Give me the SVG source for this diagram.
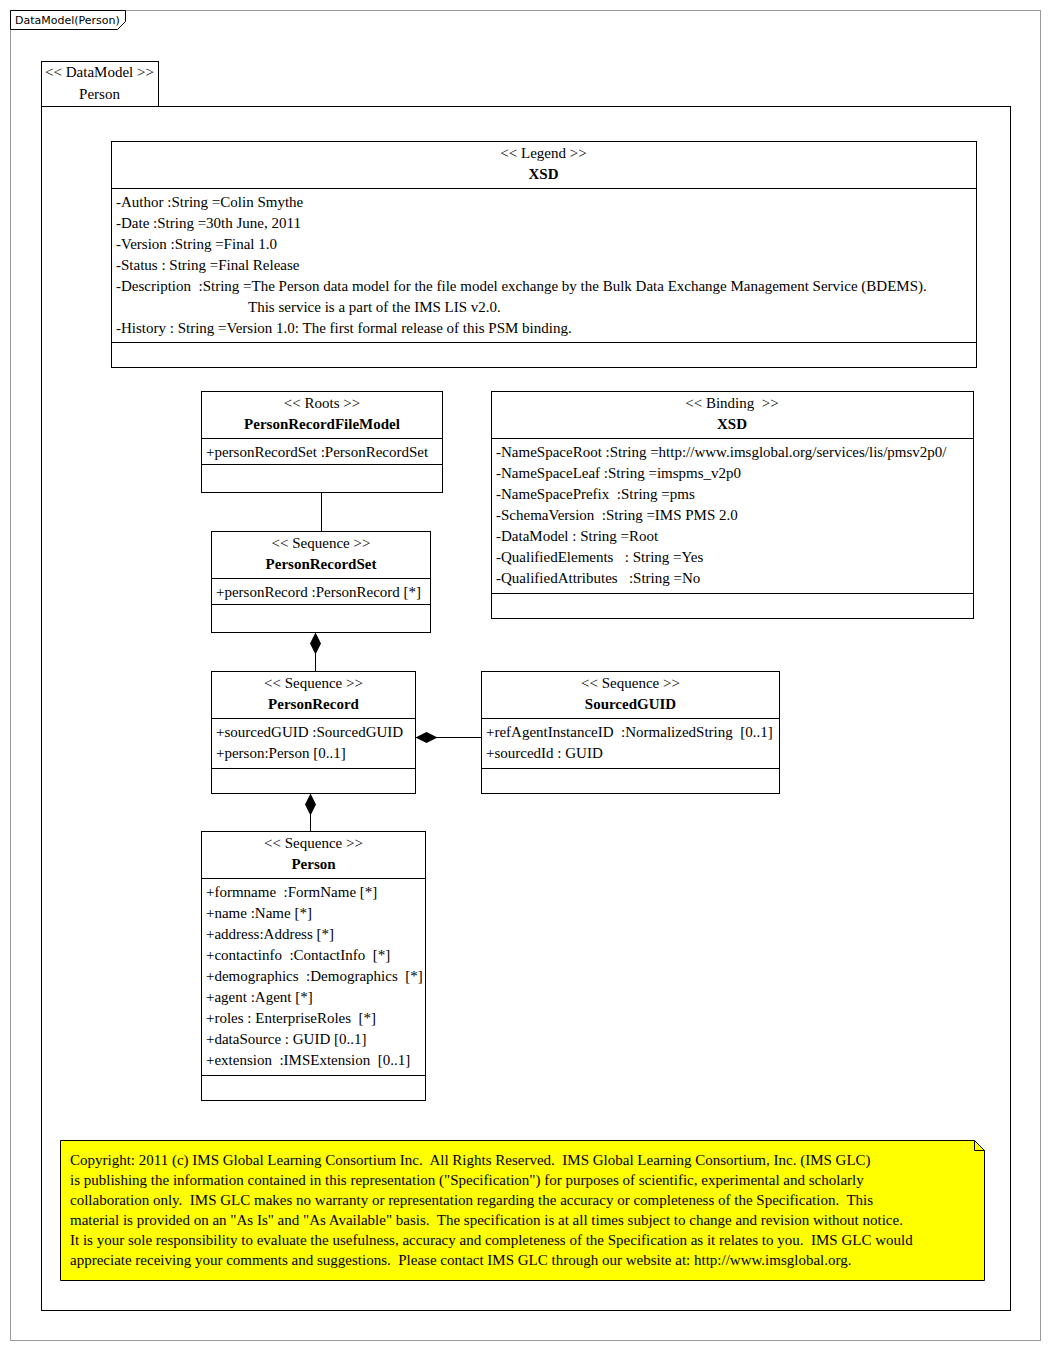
<svg xmlns="http://www.w3.org/2000/svg" width="1050" height="1350" viewBox="0 0 1050 1350">
<style>
text{font-family:"Liberation Serif","Times New Roman",serif;font-size:15px;fill:#000;white-space:pre}
.c{text-anchor:middle}
.b{font-weight:bold}
.box{fill:#fff;stroke:#000;stroke-width:1}
.ln{stroke:#000;stroke-width:1;fill:none}
.lbl{font-family:"DejaVu Sans","Liberation Sans",sans-serif;font-size:11px}
</style>
<defs>
<marker id="dia" viewBox="0 0 22 12" refX="0" refY="6" markerWidth="22" markerHeight="12" markerUnits="userSpaceOnUse" orient="auto">
<path d="M0,6 L11,0.5 L22,6 L11,11.5 Z" fill="#000"/>
</marker>
</defs>
<rect width="1050" height="1350" fill="#fff"/>
<g id="frame">
<rect x="10.5" y="10.5" width="1030" height="1330" fill="none" stroke="#999"/>
<path d="M10.5,10.5 H125.5 V21.5 L117.5,29.5 H10.5 Z" fill="#fff" stroke="#000"/>
<text class="lbl" x="15" y="24">DataModel(Person)</text>
</g>
<g id="package">
<rect x="41.5" y="61.5" width="117" height="45" class="box"/>
<rect x="41.5" y="106.5" width="969" height="1204" class="box"/>
<text class="c" x="99.5" y="77">&lt;&lt; DataModel &gt;&gt;</text>
<text class="c" x="99.5" y="99">Person</text>
</g>
<g id="legend">
<rect x="111.5" y="141.5" width="865" height="226" class="box"/>
<path d="M111.5,188.5 H976.5 M111.5,342.5 H976.5" class="ln"/>
<text class="c" x="543.5" y="158">&lt;&lt; Legend &gt;&gt;</text>
<text class="c b" x="543.5" y="179">XSD</text>
<text x="116" y="207">-Author :String =Colin Smythe</text>
<text x="116" y="228">-Date :String =30th June, 2011</text>
<text x="116" y="249">-Version :String =Final 1.0</text>
<text x="116" y="270">-Status : String =Final Release</text>
<text x="116" y="291">-Description  :String =The Person data model for the file model exchange by the Bulk Data Exchange Management Service (BDEMS).</text>
<text x="248" y="312">This service is a part of the IMS LIS v2.0.</text>
<text x="116" y="333">-History : String =Version 1.0: The first formal release of this PSM binding.</text>
</g>
<g id="roots">
<rect x="201.5" y="391.5" width="241" height="101" class="box"/>
<path d="M201.5,438.5 H442.5 M201.5,464.5 H442.5" class="ln"/>
<text class="c" x="322" y="408">&lt;&lt; Roots &gt;&gt;</text>
<text class="c b" x="322" y="429">PersonRecordFileModel</text>
<text x="206" y="457">+personRecordSet :PersonRecordSet</text>
</g>
<g id="binding">
<rect x="491.5" y="391.5" width="482" height="227" class="box"/>
<path d="M491.5,438.5 H973.5 M491.5,593.5 H973.5" class="ln"/>
<text class="c" x="732" y="408">&lt;&lt; Binding  &gt;&gt;</text>
<text class="c b" x="732" y="429">XSD</text>
<text x="496" y="457">-NameSpaceRoot :String =http://www.imsglobal.org/services/lis/pmsv2p0/</text>
<text x="496" y="478">-NameSpaceLeaf :String =imspms_v2p0</text>
<text x="496" y="499">-NameSpacePrefix  :String =pms</text>
<text x="496" y="520">-SchemaVersion  :String =IMS PMS 2.0</text>
<text x="496" y="541">-DataModel : String =Root</text>
<text x="496" y="562">-QualifiedElements   : String =Yes</text>
<text x="496" y="583">-QualifiedAttributes   :String =No</text>
</g>
<g id="personRecordSet">
<rect x="211.5" y="531.5" width="219" height="101" class="box"/>
<path d="M211.5,578.5 H430.5 M211.5,604.5 H430.5" class="ln"/>
<text class="c" x="321" y="548">&lt;&lt; Sequence &gt;&gt;</text>
<text class="c b" x="321" y="569">PersonRecordSet</text>
<text x="216" y="597">+personRecord :PersonRecord [*]</text>
</g>
<g id="personRecord">
<rect x="211.5" y="671.5" width="204" height="122" class="box"/>
<path d="M211.5,718.5 H415.5 M211.5,768.5 H415.5" class="ln"/>
<text class="c" x="313.5" y="688">&lt;&lt; Sequence &gt;&gt;</text>
<text class="c b" x="313.5" y="709">PersonRecord</text>
<text x="216" y="737">+sourcedGUID :SourcedGUID</text>
<text x="216" y="758">+person:Person [0..1]</text>
</g>
<g id="sourcedGUID">
<rect x="481.5" y="671.5" width="298" height="122" class="box"/>
<path d="M481.5,718.5 H779.5 M481.5,768.5 H779.5" class="ln"/>
<text class="c" x="630.5" y="688">&lt;&lt; Sequence &gt;&gt;</text>
<text class="c b" x="630.5" y="709">SourcedGUID</text>
<text x="486" y="737">+refAgentInstanceID  :NormalizedString  [0..1]</text>
<text x="486" y="758">+sourcedId : GUID</text>
</g>
<g id="person">
<rect x="201.5" y="831.5" width="224" height="269" class="box"/>
<path d="M201.5,878.5 H425.5 M201.5,1075.5 H425.5" class="ln"/>
<text class="c" x="313.5" y="848">&lt;&lt; Sequence &gt;&gt;</text>
<text class="c b" x="313.5" y="869">Person</text>
<text x="206" y="897">+formname  :FormName [*]</text>
<text x="206" y="918">+name :Name [*]</text>
<text x="206" y="939">+address:Address [*]</text>
<text x="206" y="960">+contactinfo  :ContactInfo  [*]</text>
<text x="206" y="981">+demographics  :Demographics  [*]</text>
<text x="206" y="1002">+agent :Agent [*]</text>
<text x="206" y="1023">+roles : EnterpriseRoles  [*]</text>
<text x="206" y="1044">+dataSource : GUID [0..1]</text>
<text x="206" y="1065">+extension  :IMSExtension  [0..1]</text>
</g>
<g id="note">
<path d="M60.5,1140.5 H974.5 L984.5,1150.5 V1280.5 H60.5 Z" fill="#ffff00" stroke="#000"/>
<path d="M974.5,1140.5 V1150.5 H984.5" class="ln"/>
<text x="70" y="1165">Copyright: 2011 (c) IMS Global Learning Consortium Inc.  All Rights Reserved.  IMS Global Learning Consortium, Inc. (IMS GLC)</text>
<text x="70" y="1185">is publishing the information contained in this representation ("Specification") for purposes of scientific, experimental and scholarly</text>
<text x="70" y="1205">collaboration only.  IMS GLC makes no warranty or representation regarding the accuracy or completeness of the Specification.  This</text>
<text x="70" y="1225">material is provided on an "As Is" and "As Available" basis.  The specification is at all times subject to change and revision without notice.</text>
<text x="70" y="1245">It is your sole responsibility to evaluate the usefulness, accuracy and completeness of the Specification as it relates to you.  IMS GLC would</text>
<text x="70" y="1265">appreciate receiving your comments and suggestions.  Please contact IMS GLC through our website at: http://www.imsglobal.org.</text>
</g>
<g id="connectors">
<path d="M321.5,492.5 V531.5" class="ln"/>
<path d="M315.5,632.5 V671.5" class="ln" marker-start="url(#dia)"/>
<path d="M415.5,737.5 H481.5" class="ln" marker-start="url(#dia)"/>
<path d="M310.5,793.5 V831.5" class="ln" marker-start="url(#dia)"/>
</g>
</svg>
